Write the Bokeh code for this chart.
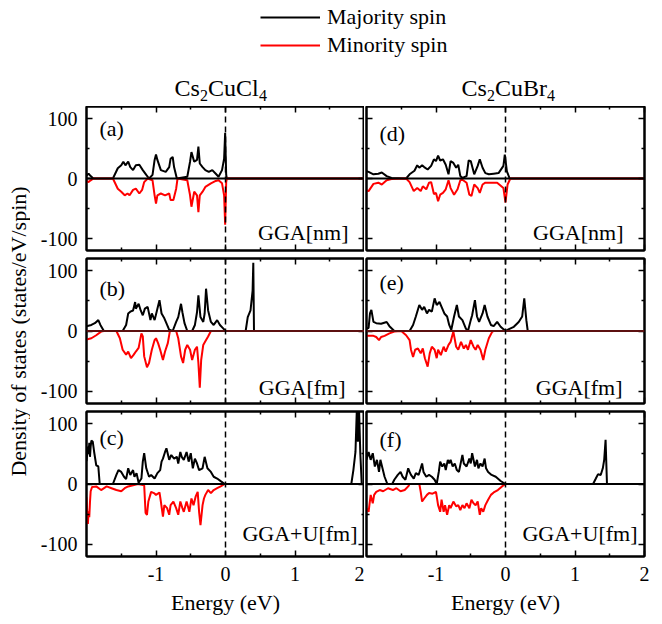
from bokeh.plotting import figure
from bokeh.models import (Range1d, LinearAxis, FixedTicker, Span, Label,
                          Legend, LegendItem, CustomLabelingPolicy)
from bokeh.layouts import column, row
from bokeh.embed import file_html
from bokeh.resources import INLINE
from bokeh.core.properties import value

FONT = "Liberation Serif"

# ---------------- DOS data (energy in eV, DOS in states/eV/spin) ----------------
# Cs2CuCl4, GGA non-magnetic
cl_nm_up_e = [-2.00, -1.97, -1.94, -1.90, -1.62, -1.55, -1.50, -1.47, -1.44, -1.40, -1.37, -1.33, -1.29, -1.24,
              -1.19, -1.14, -1.10, -1.05, -1.02, -1.00, -0.98, -0.93, -0.86, -0.81, -0.79, -0.76, -0.74, -0.70,
              -0.55, -0.51, -0.49, -0.45, -0.41, -0.39, -0.37, -0.33, -0.29, -0.24, -0.19, -0.14, -0.10, -0.05,
              -0.02, -0.005, 0.01, 0.02, 2.00]
cl_nm_up = [5, 8, 4, 0, 0, 17, 22, 28, 22, 28, 19, 14, 22, 23,
            14, 6, 0, 6, 31, 40, 31, 14, 11, 19, 33, 36, 19, 0,
            3, 28, 44, 28, 31, 53, 25, 19, 14, 11, 14, 8, 3, 14,
            33, 76, 6, 0, 0]
cl_nm_dn_e = [-2.00, -1.97, -1.94, -1.90, -1.62, -1.55, -1.50, -1.45, -1.41, -1.38, -1.33, -1.29, -1.24, -1.20,
              -1.17, -1.12, -1.05, -1.02, -1.00, -0.98, -0.93, -0.87, -0.81, -0.79, -0.75, -0.71, -0.69,
              -0.55, -0.51, -0.49, -0.45, -0.41, -0.39, -0.37, -0.33, -0.29, -0.21, -0.14, -0.10, -0.05,
              -0.02, -0.005, 0.01, 0.02, 2.00]
cl_nm_dn = [-4, -6, -3, 0, 0, -17, -22, -28, -25, -28, -19, -17, -25, -19,
            -6, 0, -3, -28, -42, -28, -25, -28, -25, -36, -36, -17, 0,
            -3, -28, -47, -22, -28, -56, -28, -22, -14, -8, -4, -3, -8,
            -28, -77, -6, 0, 0]

# Cs2CuCl4, GGA ferromagnetic
cl_fm_up_e = [-2.00, -1.93, -1.88, -1.83, -1.80, -1.75, -1.48, -1.43, -1.40, -1.37, -1.33, -1.30, -1.29, -1.25,
              -1.22, -1.19, -1.16, -1.12, -1.08, -1.06, -1.02, -0.98, -0.95, -0.92, -0.88, -0.84, -0.81, -0.76,
              -0.71, -0.68, -0.64, -0.62, -0.59, -0.55, -0.48, -0.44, -0.41, -0.39, -0.36, -0.32, -0.30, -0.28,
              -0.25, -0.21, -0.17, -0.12, -0.08, -0.03, 0.00, 0.29, 0.32, 0.36, 0.39, 0.40, 0.41, 2.00]
cl_fm_up = [8, 10, 13, 18, 10, 0, 0, 10, 29, 32, 34, 48, 37, 45,
            34, 26, 37, 40, 18, 29, 18, 37, 51, 29, 21, 10, 2, 0,
            15, 23, 45, 31, 13, 0, 0, 10, 31, 59, 23, 15, 29, 70,
            34, 15, 10, 18, 10, 4, 0, 0, 23, 34, 67, 113, 0, 0]
cl_fm_dn_e = [-2.00, -1.93, -1.86, -1.79, -1.75, -1.57, -1.52, -1.48, -1.43, -1.40, -1.36, -1.32, -1.29, -1.25,
              -1.21, -1.19, -1.17, -1.13, -1.10, -1.06, -1.02, -1.00, -0.97, -0.94, -0.90, -0.87, -0.83, -0.80,
              -0.71, -0.68, -0.64, -0.61, -0.58, -0.55, -0.51, -0.48, -0.44, -0.41, -0.39, -0.37, -0.35, -0.32,
              -0.29, -0.25, -0.21, 2.00]
cl_fm_dn = [-14, -12, -7, -1, 0, 0, -12, -31, -39, -34, -45, -39, -34, -28,
            -4, -9, -42, -60, -53, -31, -15, -12, -20, -31, -48, -34, -20, 0,
            0, -12, -42, -53, -31, -23, -31, -48, -31, -26, -53, -94, -48, -23,
            -17, -9, 0, 0]

# Cs2CuCl4, GGA+U ferromagnetic
cl_fmu_up_e = [-2.00, -1.98, -1.97, -1.96, -1.95, -1.94, -1.93, -1.91, -1.89, -1.86, -1.83, -1.81, -1.62, -1.57,
               -1.54, -1.50, -1.46, -1.43, -1.40, -1.37, -1.33, -1.31, -1.28, -1.25, -1.21, -1.19, -1.17, -1.14,
               -1.10, -1.07, -1.02, -0.98, -0.94, -0.92, -0.90, -0.87, -0.85, -0.81, -0.78, -0.74, -0.70, -0.68,
               -0.65, -0.63, -0.60, -0.56, -0.53, -0.50, -0.47, -0.44, -0.41, -0.38, -0.33, -0.30, -0.26, -0.21,
               -0.17, -0.12, -0.06, -0.01, 1.81, 1.84, 1.87, 1.89, 1.905, 1.92, 1.94, 1.96, 2.00]
cl_fmu_up = [38, 62, 50, 68, 45, 62, 72, 70, 53, 31, 29, 0, 0, 15,
             23, 20, 12, 8, 26, 15, 23, 12, 18, 2, 9, 37, 51, 26,
             12, 15, 9, 18, 23, 37, 42, 53, 59, 40, 48, 42, 45, 34,
             53, 45, 40, 53, 37, 51, 26, 42, 34, 23, 26, 45, 26, 20,
             12, 9, 4, 0, 0, 23, 53, 125, 70, 130, 50, 0, 0]
cl_fmu_dn_e = [-2.00, -1.99, -1.98, -1.97, -1.96, -1.95, -1.94, -1.92, -1.86, -1.79, -1.71, -1.64, -1.57, -1.50,
               -1.45, -1.40, -1.33, -1.26, -1.17, -1.15, -1.13, -1.11, -1.07, -1.03, -1.00, -0.95, -0.93, -0.90,
               -0.88, -0.84, -0.81, -0.79, -0.75, -0.71, -0.68, -0.65, -0.62, -0.60, -0.56, -0.52, -0.49, -0.46,
               -0.43, -0.40, -0.38, -0.36, -0.33, -0.31, -0.29, -0.25, -0.21, -0.17, -0.12, -0.07, -0.01, 2.00]
cl_fmu_dn = [-22, -45, -66, -45, -55, -30, -12, -5, -4, -10, -4, -7, -10, -12,
             -7, -4, -2, 0, -2, -48, -51, -29, -13, -15, -18, -14, -29, -54,
             -35, -40, -51, -35, -29, -40, -51, -29, -40, -46, -29, -46, -24, -35,
             -21, -13, -46, -68, -35, -24, -18, -10, -15, -10, -7, -4, 0, 0]

# Cs2CuBr4, GGA non-magnetic
br_nm_up_e = [-2.00, -1.97, -1.90, -1.83, -1.78, -1.71, -1.64, -1.43, -1.38, -1.31, -1.27, -1.24, -1.20, -1.17,
              -1.12, -1.07, -1.03, -1.00, -0.97, -0.94, -0.90, -0.86, -0.82, -0.79, -0.75, -0.71, -0.68, -0.65,
              -0.62, -0.56, -0.53, -0.50, -0.45, -0.40, -0.37, -0.33, -0.29, -0.24, -0.17, -0.10, -0.03, -0.01,
              0.02, 0.06, 2.00]
br_nm_up = [12, 11, 7, 8, 10, 4, 1, 0, 7, 13, 22, 18, 22, 19,
            15, 21, 32, 29, 38, 30, 32, 23, 7, 29, 26, 18, 23, 4,
            1, 4, 30, 29, 7, 21, 32, 18, 9, 7, 8, 9, 21, 40,
            12, 0, 0]
br_nm_dn_e = [-2.00, -1.97, -1.90, -1.83, -1.78, -1.71, -1.64, -1.43, -1.38, -1.32, -1.27, -1.22, -1.19, -1.14,
              -1.10, -1.07, -1.03, -1.00, -0.97, -0.94, -0.90, -0.86, -0.82, -0.79, -0.74, -0.69, -0.65, -0.62,
              -0.56, -0.52, -0.49, -0.45, -0.40, -0.37, -0.33, -0.29, -0.21, -0.12, -0.03, 0.00, 0.03, 0.07, 2.00]
br_nm_dn = [-20, -21, -9, -7, -10, -3, -1, 0, -6, -21, -16, -21, -13, -18,
            -7, -6, -26, -24, -38, -27, -24, -18, -3, -16, -27, -18, -3, -2,
            -7, -27, -29, -10, -16, -24, -10, -7, -7, -7, -16, -40, -10, 0, 0]

# Cs2CuBr4, GGA ferromagnetic
br_fm_up_e = [-2.00, -1.97, -1.95, -1.93, -1.90, -1.86, -1.79, -1.71, -1.67, -1.60, -1.38, -1.33, -1.29, -1.24,
              -1.20, -1.17, -1.13, -1.10, -1.06, -1.02, -0.99, -0.95, -0.92, -0.88, -0.84, -0.81, -0.78, -0.74,
              -0.70, -0.67, -0.62, -0.57, -0.54, -0.50, -0.48, -0.44, -0.41, -0.38, -0.33, -0.30, -0.26, -0.21,
              -0.17, -0.12, -0.07, 0.00, 0.05, 0.12, 0.19, 0.24, 0.27, 0.30, 0.32, 2.00]
br_fm_up = [4, 5, 29, 35, 15, 13, 12, 15, 8, 0, 0, 10, 24, 43,
            35, 40, 29, 35, 32, 54, 43, 48, 40, 29, 24, 10, 2, 24,
            43, 24, 18, 4, 0, 18, 26, 51, 24, 15, 29, 43, 24, 10,
            8, 15, 7, 0, 3, 7, 15, 24, 54, 18, 0, 0]
br_fm_dn_e = [-2.00, -1.97, -1.90, -1.86, -1.82, -1.79, -1.74, -1.67, -1.60, -1.50, -1.43, -1.38, -1.36, -1.33,
              -1.30, -1.26, -1.22, -1.19, -1.16, -1.12, -1.09, -1.06, -1.02, -0.99, -0.97, -0.93, -0.89, -0.86,
              -0.82, -0.79, -0.75, -0.71, -0.68, -0.64, -0.60, -0.57, -0.54, -0.50, -0.46, -0.43, -0.40, -0.36,
              -0.32, -0.29, -0.24, -0.19, -0.17, 2.00]
br_fm_dn = [-8, -8, -8, -10, -15, -10, -8, -4, -1, 0, -7, -15, -31, -43,
            -31, -29, -37, -29, -45, -59, -37, -26, -31, -45, -31, -40, -26, -34,
            -23, -18, -1, -26, -31, -18, -29, -23, -31, -15, -26, -31, -23, -31,
            -48, -31, -12, -1, 0, 0]

# Cs2CuBr4, GGA+U ferromagnetic
br_fmu_up_e = [-2.00, -1.97, -1.94, -1.91, -1.88, -1.85, -1.82, -1.80, -1.77, -1.74, -1.70, -1.63, -1.60, -1.55,
               -1.51, -1.48, -1.44, -1.40, -1.38, -1.36, -1.32, -1.29, -1.25, -1.22, -1.20, -1.18, -1.14, -1.10,
               -1.06, -1.02, -0.99, -0.96, -0.94, -0.91, -0.88, -0.86, -0.83, -0.81, -0.79, -0.76, -0.73, -0.70,
               -0.67, -0.64, -0.62, -0.60, -0.56, -0.52, -0.50, -0.48, -0.44, -0.41, -0.39, -0.36, -0.33, -0.30,
               -0.28, -0.25, -0.20, -0.14, -0.07, 0.00, 1.26, 1.30, 1.33, 1.37, 1.40, 1.42, 1.44, 1.46, 2.00]
br_fmu_up = [40, 53, 40, 51, 29, 40, 20, 40, 26, 12, 0, 0, 7, 15,
             20, 12, 7, 26, 20, 15, 9, 18, 15, 26, 34, 20, 12, 15,
             12, 7, 0, 20, 37, 29, 34, 23, 40, 34, 40, 29, 34, 23,
             20, 37, 48, 34, 29, 42, 34, 51, 29, 40, 26, 34, 29, 42,
             26, 20, 15, 12, 5, 0, 0, 9, 16, 15, 26, 40, 73, 0, 0]
br_fmu_dn_e = [-2.00, -1.97, -1.94, -1.91, -1.89, -1.86, -1.81, -1.76, -1.69, -1.62, -1.57, -1.51, -1.45, -1.40,
               -1.38, -1.24, -1.22, -1.20, -1.17, -1.13, -1.10, -1.05, -1.00, -0.97, -0.94, -0.92, -0.89, -0.87,
               -0.84, -0.81, -0.79, -0.75, -0.71, -0.68, -0.65, -0.62, -0.59, -0.56, -0.52, -0.49, -0.46, -0.43,
               -0.40, -0.37, -0.35, -0.32, -0.29, -0.25, -0.21, -0.17, -0.11, -0.05, 0.00, 2.00]
br_fmu_dn = [-40, -46, -18, -32, -18, -13, -10, -12, -7, -10, -7, -12, -10, -4,
             0, 0, -13, -29, -24, -18, -15, -16, -13, -35, -46, -26, -46, -35,
             -51, -35, -40, -29, -37, -35, -43, -35, -40, -32, -40, -26, -32, -35,
             -29, -51, -40, -46, -35, -26, -18, -14, -10, -4, 0, 0]

# ---------------- labels and ticks ----------------
energy_ticks = [-1, 0, 1, 2]
energy_minor = [-1.5, -0.5, 0.5, 1.5]
energy_tick_text = {-1: "-1", 0: "0", 1: "1", 2: "2"}
dos_ticks = [-100, 0, 100]
dos_minor = [-50, 50]
dos_tick_text = {-100: "-100", 0: "0", 100: "100"}
compounds = [("Cs", "2", "CuCl", "4"), ("Cs", "2", "CuBr", "4")]
legend_labels = ["Majority spin", "Minority spin"]
x_label = "Energy (eV)"
y_label = "Density of states (states/eV/spin)"

FRAME_W = 278
STRIP_W = 30


def style_axis(ax, show_labels, label_standoff=8, overrides=None):
    ax.axis_line_width = 2
    ax.axis_line_color = "black"
    ax.major_tick_in = 6
    ax.major_tick_out = 0
    ax.minor_tick_in = 3
    ax.minor_tick_out = 0
    ax.major_tick_line_width = 1.5
    ax.minor_tick_line_width = 1.5
    ax.major_tick_line_color = "black"
    ax.minor_tick_line_color = "black"
    ax.major_label_text_font = FONT
    ax.major_label_text_color = "black"
    if show_labels:
        ax.major_label_text_font_size = "20px"
        ax.major_label_standoff = label_standoff
        if overrides:
            ax.major_label_overrides = overrides
    else:
        # mirror axes: ticks only, no labels
        ax.major_label_text_font_size = "0px"
        ax.major_label_standoff = 0
        ax.major_label_policy = CustomLabelingPolicy(code="return new Set()")
    ax.axis_label_text_font = FONT
    ax.axis_label_text_font_size = "22px"
    ax.axis_label_text_font_style = "normal"
    ax.axis_label_text_color = "black"


def make_panel(e_up, up, e_dn, dn, tag, method, left, pos, zero_color,
               tag_dy, meth_dy, meth_dx):
    if pos == "top":
        fh, tb, bb = 144, 0, 4
    elif pos == "mid":
        fh, tb, bb = 145, 4, 4
    else:
        fh, tb, bb = 145, 4, 68
    p = figure(frame_width=FRAME_W, frame_height=fh,
               x_range=Range1d(-2, 2), y_range=Range1d(-120, 120),
               output_backend="svg", toolbar_location=None,
               x_axis_location=None, y_axis_location=None,
               min_border_left=86 - STRIP_W if left else 2,
               min_border_right=0 if left else 18,
               min_border_top=tb, min_border_bottom=bb)
    p.grid.visible = False
    p.outline_line_color = "black"
    p.outline_line_width = 2
    p.background_fill_color = "white"
    p.border_fill_color = "white"

    xt = FixedTicker(ticks=energy_ticks, minor_ticks=energy_minor)
    yt = FixedTicker(ticks=dos_ticks, minor_ticks=dos_minor)

    xb = LinearAxis(ticker=xt)
    style_axis(xb, pos == "bottom", label_standoff=10, overrides=energy_tick_text)
    if pos == "bottom":
        xb.axis_label = x_label
        xb.axis_label_standoff = 6
    p.add_layout(xb, "below")
    xa = LinearAxis(ticker=xt)
    style_axis(xa, False)
    p.add_layout(xa, "above")

    yl = LinearAxis(ticker=yt)
    style_axis(yl, left, label_standoff=9, overrides=dos_tick_text)
    p.add_layout(yl, "left")
    yr = LinearAxis(ticker=yt)
    style_axis(yr, False)
    p.add_layout(yr, "right")

    p.add_layout(Span(location=0, dimension="width", line_color=zero_color,
                      line_width=2))
    p.line(e_up, up, line_color="black", line_width=2)
    p.line(e_dn, dn, line_color="red", line_width=2)
    p.add_layout(Span(location=0, dimension="height", line_color="black",
                      line_width=1.5, line_dash="6 4"))

    p.add_layout(Label(x=13, y=fh - tag_dy, x_units="screen", y_units="screen",
                       text=tag, text_baseline="middle", text_align="left",
                       text_font=FONT, text_font_size="22px", text_color="black"))
    p.add_layout(Label(x=FRAME_W - meth_dx, y=meth_dy, x_units="screen",
                       y_units="screen", text=method, text_baseline="alphabetic",
                       text_align="right", text_font=FONT,
                       text_font_size="22px", text_color="black"))
    return p


pa = make_panel(cl_nm_up_e, cl_nm_up, cl_nm_dn_e, cl_nm_dn, "(a)", "GGA[nm]",
                True, "top", "black", 22, 18, 16)
pb = make_panel(cl_fm_up_e, cl_fm_up, cl_fm_dn_e, cl_fm_dn, "(b)", "GGA[fm]",
                True, "mid", "#5c1010", 30, 16, 19)
pc = make_panel(cl_fmu_up_e, cl_fmu_up, cl_fmu_dn_e, cl_fmu_dn, "(c)", "GGA+U[fm]",
                True, "bottom", "black", 26, 23, 7)
pd = make_panel(br_nm_up_e, br_nm_up, br_nm_dn_e, br_nm_dn, "(d)", "GGA[nm]",
                False, "top", "black", 27, 18, 21)
pe = make_panel(br_fm_up_e, br_fm_up, br_fm_dn_e, br_fm_dn, "(e)", "GGA[fm]",
                False, "mid", "#5c1010", 24, 16, 22)
pf = make_panel(br_fmu_up_e, br_fmu_up, br_fmu_dn_e, br_fmu_dn, "(f)", "GGA+U[fm]",
                False, "bottom", "black", 28, 23, 7)

# ---------------- shared y-axis title strip ----------------
STRIP_H = 624 - 106
strip = figure(width=STRIP_W, height=STRIP_H, x_range=Range1d(0, STRIP_W),
               y_range=Range1d(0, STRIP_H), output_backend="svg",
               toolbar_location=None, x_axis_location=None, y_axis_location=None,
               min_border=0)
strip.grid.visible = False
strip.outline_line_color = None
strip.text(x=[18], y=[STRIP_H - 225], text=[y_label], angle=90, angle_units="deg",
           text_align="center", text_baseline="middle", text_font=value(FONT),
           text_font_size="22px", text_color="black")

# ---------------- header: legend and compound names ----------------
hdr = figure(width=662, height=106, x_range=Range1d(0, 662), y_range=Range1d(106, 0),
             output_backend="svg", toolbar_location=None,
             x_axis_location=None, y_axis_location=None, min_border=0)
hdr.grid.visible = False
hdr.outline_line_color = None
# legend carriers sit outside the visible range
r_up = hdr.line(x=[-20, -10], y=[50, 50], line_color="black", line_width=2)
r_dn = hdr.line(x=[-20, -10], y=[60, 60], line_color="red", line_width=2)
leg = Legend(items=[LegendItem(label=legend_labels[0], renderers=[r_up]),
                    LegendItem(label=legend_labels[1], renderers=[r_dn])],
             location=(260, 47), glyph_width=60, glyph_height=28, label_height=28,
             label_standoff=7, spacing=0, padding=0, margin=0,
             label_text_font=FONT, label_text_font_size="22px",
             label_text_color="black",
             border_line_color=None, background_fill_alpha=0)
hdr.add_layout(leg)

main_x = [174, 207.5, 461, 494.5]
main_txt = [compounds[0][0], compounds[0][2], compounds[1][0], compounds[1][2]]
sub_x = [199.5, 258.5, 486.5, 546.5]
sub_txt = [compounds[0][1], compounds[0][3], compounds[1][1], compounds[1][3]]
hdr.text(x=main_x, y=[87] * 4, text=main_txt, text_font=value(FONT),
         text_font_size="24px", text_baseline="alphabetic", text_align="left",
         text_color="black")
hdr.text(x=sub_x, y=[95] * 4, text=sub_txt, text_font=value(FONT),
         text_font_size="16px", text_baseline="alphabetic", text_align="left",
         text_color="black")

layout = column(hdr,
                row(strip,
                    column(pa, pb, pc, spacing=0),
                    column(pd, pe, pf, spacing=0), spacing=0),
                spacing=0)

open("out.html", "w").write(file_html(layout, INLINE))
